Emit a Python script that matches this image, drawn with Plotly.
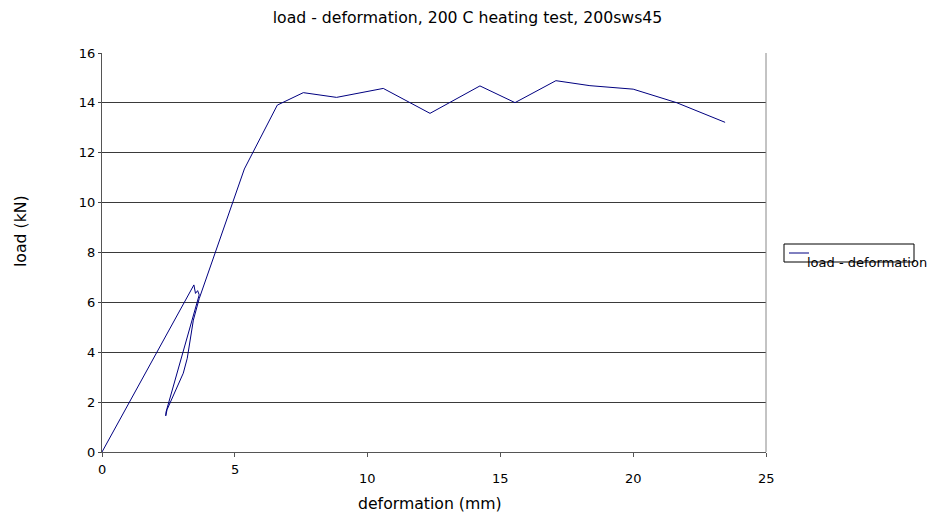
import plotly.graph_objects as go

deformation = [0, 3.46, 3.52, 3.60, 3.66, 2.41, 2.40, 2.45, 3.06, 3.21, 3.44, 3.66,
               5.36, 6.60, 7.58, 8.83, 10.59, 12.35, 14.23, 15.55, 17.09, 18.37,
               20.0, 21.63, 23.46]
load = [0, 6.70, 6.36, 6.47, 6.30, 1.60, 1.45, 1.70, 3.16, 3.76, 5.29, 6.15,
        11.35, 13.91, 14.41, 14.22, 14.58, 13.58, 14.68, 14.01, 14.89, 14.69,
        14.55, 14.01, 13.22]

x_ticks = [0, 5, 10, 15, 20, 25]
x_tick_labels = ["0", "5", "10", "15", "20", "25"]
x_label_row = [0, 0, 1, 1, 1, 1]  # staggered label rows
y_ticks = [0, 2, 4, 6, 8, 10, 12, 14, 16]

FONT = "DejaVu Sans"
NAVY = "#000080"
TITLE_SIZE = 15.7
TICK_SIZE = 13

W, H = 931, 516
# plot area in screen pixels
X0, X1, Y0, Y1 = 102, 766, 53, 452
L, R, T, B = X0, W - X1, Y0, H - Y1
plot_w = X1 - X0
plot_h = Y1 - Y0


def px(xs):
    return (xs - X0) / plot_w


def py(ys):
    return (Y1 - ys) / plot_h


fig = go.Figure()
fig.add_trace(go.Scatter(x=deformation, y=load, mode="lines",
                         line=dict(color=NAVY, width=1),
                         name="load - deformation", showlegend=False))

annotations = []
for v, t, r in zip(x_ticks, x_tick_labels, x_label_row):
    annotations.append(dict(x=v, y=0, xref="x", yref="paper", text=t,
                            showarrow=False, xanchor="center", yanchor="middle",
                            yshift=-17 - 9 * r,
                            font=dict(family=FONT, size=TICK_SIZE, color="#000")))

# axis titles
annotations.append(dict(x=px(430), y=py(503), xref="paper", yref="paper",
                        text="deformation (mm)", showarrow=False,
                        xanchor="center", yanchor="middle",
                        font=dict(family=FONT, size=TITLE_SIZE, color="#000")))
annotations.append(dict(x=px(20), y=py(231), xref="paper", yref="paper",
                        text="load (kN)", showarrow=False, textangle=-90,
                        xanchor="center", yanchor="middle",
                        font=dict(family=FONT, size=TITLE_SIZE, color="#000")))
# legend text
annotations.append(dict(x=px(805), y=py(262), xref="paper", yref="paper",
                        text="load - deformation", showarrow=False,
                        xanchor="left", yanchor="middle",
                        font=dict(family=FONT, size=TICK_SIZE, color="#000")))

fig.update_layout(
    width=W, height=H,
    margin=dict(l=L, r=R, t=T, b=B, autoexpand=False),
    paper_bgcolor="white", plot_bgcolor="white",
    title=dict(text="load - deformation, 200 C heating test, 200sws45",
               x=467.5 / W, xanchor="center", y=1 - 18 / H,
               yanchor="middle",
               font=dict(family=FONT, size=TITLE_SIZE, color="#000")),
    xaxis=dict(range=[0, 25], tickvals=x_ticks, showticklabels=False,
               ticks="outside", ticklen=4, tickcolor="#555", tickwidth=1,
               showline=True, linecolor="#555", linewidth=1, mirror=False,
               showgrid=False, zeroline=False),
    yaxis=dict(range=[0, 16], tickvals=y_ticks,
               ticks="outside", ticklen=3, tickcolor="#444", tickwidth=1,
               showline=True, linecolor="#555", linewidth=1,
               showgrid=True, gridcolor="#3a3a3a", gridwidth=1, zeroline=False,
               tickfont=dict(family=FONT, size=TICK_SIZE, color="#000")),
    showlegend=False,
    font=dict(family=FONT),
    annotations=annotations,
)

fig.add_shape(type="line", xref="paper", yref="paper", x0=1, x1=1, y0=0, y1=1,
              line=dict(color="#888", width=1))
fig.add_shape(type="rect", xref="paper", yref="paper",
              x0=px(784), x1=px(914), y0=py(262), y1=py(244),
              line=dict(color="#000", width=1), fillcolor="rgba(0,0,0,0)")
fig.add_shape(type="line", xref="paper", yref="paper",
              x0=px(789), x1=px(809), y0=py(253), y1=py(253),
              line=dict(color=NAVY, width=1))

fig.write_html(
    "out.html",
    config={"displayModeBar": False},
    post_script="document.body.style.margin='0';document.body.style.overflow='hidden';",
)
